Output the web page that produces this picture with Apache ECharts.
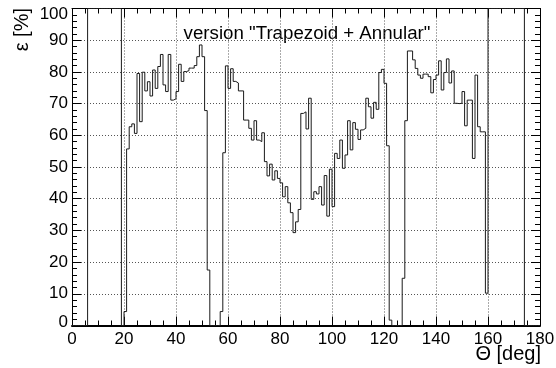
<!DOCTYPE html>
<html>
<head>
<meta charset="utf-8">
<script src="https://cdn.jsdelivr.net/npm/echarts@6/dist/echarts.min.js"></script>
<style>
  html, body { margin: 0; padding: 0; background: #fff; }
  #chart { width: 556px; height: 368px; }
</style>
</head>
<body>
<div id="chart"></div>
<script>
// Polar-angle binning of the efficiency histogram (1 degree bins)
const thetaMin = 0;
const thetaMax = 180;
const binWidth = 1;

// Efficiency per theta bin [%], bins 0..179
const efficiency = [
  // 0 - 19
  0, 0, 0, 0, 0, 0, 100, 100, 100, 100, 100, 100, 100, 100, 100, 100, 100, 100, 100, 0,
  // 20 - 39
  4.4, 55.7, 62.7, 63.6, 60.6, 79.5, 64.3, 79.9, 74, 76.9, 72.4, 80.6, 74.8, 81.7, 85.5, 75.9, 73.8, 85.5, 71.1, 71.5,
  // 40 - 59
  73.8, 82.4, 77, 80.1, 80.4, 81.2, 81.2, 82, 84.8, 88.5, 84.8, 67.8, 17.5, 0, 0, 0, 0, 4.4, 54.5, 81.9,
  // 60 - 79
  74.8, 81, 77, 76.5, 74, 74, 64.8, 64.8, 62.2, 58.5, 64.6, 58.5, 58, 60.8, 51.7, 47.2, 50.9, 45.9, 48.8, 46.4,
  // 80 - 99
  45, 40.6, 43.8, 38.7, 35.6, 29.3, 32.7, 36.6, 66.9, 67.4, 62, 71.7, 39.8, 42.2, 41.5, 43.8, 38, 47.3, 34.5, 49.3,
  // 100 - 119
  37.5, 54.3, 52.7, 58.5, 49.6, 53.8, 64.6, 55.4, 64, 61.9, 58.7, 61.7, 62.2, 71.7, 69, 65.4, 70.4, 68.2, 79.8, 80.8,
  // 120 - 139
  76.4, 56.7, 1.7, 0, 0, 0, 0, 14.9, 64.6, 86.6, 86.6, 83.8, 81.1, 79, 78, 79.3, 79.3, 78.5, 73.4, 77.6,
  // 140 - 159
  79, 83.5, 74.3, 79.8, 84.1, 76.5, 80.3, 70.1, 70, 70.1, 73.8, 63, 71.1, 71.1, 52.7, 79, 62.7, 61.1, 61.1, 10.2,
  // 160 - 179
  100, 100, 100, 100, 100, 100, 100, 100, 100, 100, 100, 100, 100, 100, 0, 0, 0, 0, 0, 0
];

const thetaTickStep = 20;
const effMin = 0;
const effMax = 100;
const effTickStep = 10;

const titleText = 'version "Trapezoid + Annular"';
const xTitle = '\u0398 [deg]';
const yTitle = '\u03B5 [%]';

// Step outline: one point per bin low edge, plus the upper edge of the last bin
const histPoints = efficiency.map((v, i) => [thetaMin + i * binWidth, v]);
histPoints.push([thetaMax, efficiency[efficiency.length - 1]]);

const FONT = '"Liberation Sans", Arial, Helvetica, sans-serif';
const tickLine = { color: '#000', width: 1 };

const chart = echarts.init(document.getElementById('chart'), null, { renderer: 'canvas' });

chart.setOption({
  animation: false,
  backgroundColor: '#fff',
  grid: {
    left: 72, right: 16, top: 8.5, bottom: 42.5,
    containLabel: false,
    outerBoundsMode: 'none'
  },
  xAxis: [
    {
      type: 'value', min: thetaMin, max: thetaMax, interval: thetaTickStep,
      position: 'bottom',
      axisLine: { show: true, onZero: false, lineStyle: { color: '#000', width: 2 } },
      axisTick: { show: true, inside: true, length: 9, lineStyle: tickLine },
      minorTick: { show: true, splitNumber: 4, length: 5, lineStyle: tickLine },
      splitLine: { show: true, lineStyle: { color: '#555', width: 1, type: [1, 2] } },
      axisLabel: { show: true, color: '#000', fontSize: 17, fontFamily: FONT, margin: 5 }
    },
    {
      type: 'value', min: thetaMin, max: thetaMax, interval: thetaTickStep,
      position: 'top',
      axisLine: { show: true, onZero: false, lineStyle: { color: '#000', width: 1 } },
      axisTick: { show: true, inside: true, length: 9, lineStyle: tickLine },
      minorTick: { show: true, splitNumber: 4, length: 5, lineStyle: tickLine },
      splitLine: { show: false },
      axisLabel: { show: false }
    }
  ],
  yAxis: [
    {
      type: 'value', min: effMin, max: effMax, interval: effTickStep,
      position: 'left',
      axisLine: { show: true, onZero: false, lineStyle: { color: '#000', width: 1 } },
      axisTick: { show: true, inside: true, length: 9, lineStyle: tickLine },
      minorTick: { show: true, splitNumber: 5, length: 5, lineStyle: tickLine },
      splitLine: { show: true, lineStyle: { color: '#555', width: 1, type: [1, 2] } },
      axisLabel: {
        show: true, color: '#000', fontSize: 17, fontFamily: FONT, margin: 4,
        formatter: function (v) {
          if (v === effMax) return '{hi|' + v + '}';
          if (v === effMin) return '{lo|' + v + '}';
          return String(v);
        },
        rich: {
          hi: { color: '#000', fontSize: 17, fontFamily: FONT, padding: [11, 0, 0, 0] },
          lo: { color: '#000', fontSize: 17, fontFamily: FONT, padding: [0, 0, 6, 0] }
        }
      }
    },
    {
      type: 'value', min: effMin, max: effMax, interval: effTickStep,
      position: 'right',
      axisLine: { show: true, onZero: false, lineStyle: { color: '#000', width: 1 } },
      axisTick: { show: true, inside: true, length: 9, lineStyle: tickLine },
      minorTick: { show: true, splitNumber: 5, length: 5, lineStyle: tickLine },
      splitLine: { show: false },
      axisLabel: { show: false }
    }
  ],
  series: [
    {
      type: 'line',
      xAxisIndex: 0,
      yAxisIndex: 0,
      step: 'end',
      data: histPoints,
      showSymbol: false,
      symbol: 'none',
      clip: true,
      silent: true,
      lineStyle: { color: '#1a1a1a', width: 1 }
    }
  ],
  graphic: [
    {
      type: 'text',
      x: 307, y: 34,
      silent: true,
      style: {
        text: titleText,
        font: '18.7px ' + FONT,
        fill: '#000',
        align: 'center', verticalAlign: 'middle',
        textAlign: 'center', textVerticalAlign: 'middle'
      }
    },
    {
      type: 'text',
      x: 541, y: 354,
      silent: true,
      style: {
        text: xTitle,
        font: '20px ' + FONT,
        fill: '#000',
        align: 'right', verticalAlign: 'middle',
        textAlign: 'right', textVerticalAlign: 'middle'
      }
    },
    {
      type: 'text',
      x: 22, y: 8,
      rotation: Math.PI / 2,
      silent: true,
      style: {
        text: yTitle,
        font: '20px ' + FONT,
        fill: '#000',
        align: 'right', verticalAlign: 'middle',
        textAlign: 'right', textVerticalAlign: 'middle'
      }
    }
  ]
});
</script>
</body>
</html>
